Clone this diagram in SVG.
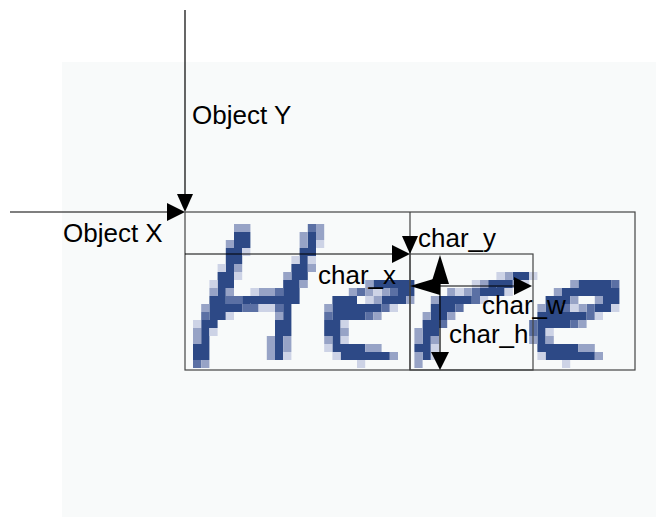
<svg xmlns="http://www.w3.org/2000/svg" width="656" height="517" viewBox="0 0 656 517">
<style>
.t{font-family:"Liberation Sans",Arial,sans-serif;font-size:26px;fill:#000}
.box{fill:none;stroke:#444;stroke-width:1.2}
.ln{fill:none;stroke:#000;stroke-width:1.2}
.ah{fill:#000;stroke:none}
.d{fill:#2d4986}.m{fill:#5b70a4}.l{fill:#97a3c6}.p{fill:#cdd3e6}
</style>
<rect x="0" y="0" width="656" height="517" fill="#ffffff"/>
<rect id="background" x="62" y="62" width="594" height="455" fill="#f8fafa"/>
<g id="handwriting" transform="translate(234,224) scale(8.2,8)">
<path class="d" d="M0 1h1v1h-1zM1 1h1v1h-1zM0 2h1v1h-1zM0 3h1v1h-1zM-1 4h1v1h-1zM-1 5h1v1h-1zM-1 6h1v1h-1zM-2 7h1v1h-1zM-2 8h1v1h-1zM-3 9h1v1h-1zM-2 9h1v1h-1zM1 9h1v1h-1zM2 9h1v1h-1zM3 9h1v1h-1zM4 9h1v1h-1zM5 9h1v1h-1zM-3 10h1v1h-1zM-2 10h1v1h-1zM-1 10h1v1h-1zM0 10h1v1h-1zM-3 11h1v1h-1zM-4 12h1v1h-1zM-4 13h1v1h-1zM-4 14h1v1h-1zM-5 15h1v1h-1zM-4 15h1v1h-1zM-5 16h1v1h-1zM9 1h1v1h-1zM9 2h1v1h-1zM8 3h1v1h-1zM8 4h1v1h-1zM8 5h1v1h-1zM7 6h1v1h-1zM8 6h1v1h-1zM7 7h1v1h-1zM6 8h1v1h-1zM7 8h1v1h-1zM6 9h1v1h-1zM6 10h1v1h-1zM6 11h1v1h-1zM6 12h1v1h-1zM5 14h1v1h-1zM5 15h1v1h-1zM5 16h1v1h-1zM17 7h5v1h-5zM20 8h2v1h-2zM13 9h1v1h-1zM19 9h2v1h-2zM12 10h6v1h-6zM12 11h1v1h-1zM14 11h2v1h-2zM11 12h2v1h-2zM11 13h2v1h-2zM12 14h1v1h-1zM12 15h4v1h-4zM14 16h5v1h-5zM34 6h2v1h-2zM32 7h2v1h-2zM30 8h2v1h-2zM25 9h1v1h-1zM27 9h2v1h-2zM25 10h2v1h-2zM24 11h2v1h-2zM24 12h1v1h-1zM23 13h1v4h-1zM42 7h4v1h-4zM40 8h1v1h-1zM42 8h5v1h-5zM39 9h2v1h-2zM45 9h2v1h-2zM38 10h2v1h-2zM44 10h2v1h-2zM37 11h6v1h-6zM37 12h1v1h-1zM39 12h2v1h-2zM37 13h1v2h-1zM37 15h5v1h-5zM39 16h5v1h-5zM1 2h1v1h-1zM-1 3h1v1h-1zM0 4h1v1h-1zM-2 6h1v1h-1zM-1 7h1v1h-1zM-2 11h1v1h-1zM-3 12h1v1h-1zM-4 16h1v1h-1zM9 3h1v1h-1zM7 5h1v1h-1zM6 7h1v1h-1zM7 9h1v1h-1zM5 12h1v1h-1zM5 13h2v1h-2zM12 9h1v1h-1zM14 9h1v1h-1zM13 11h1v1h-1zM18 9h1v1h-1zM13 16h1v1h-1zM26 9h1v1h-1zM24 10h1v1h-1zM23 12h1v1h-1zM24 13h1v1h-1zM22 15h1v1h-1zM31 7h1v1h-1zM32 8h1v1h-1zM41 8h1v1h-1zM38 9h1v1h-1zM38 12h1v1h-1zM38 16h1v1h-1z"/>
<path class="m" d="M-1 9h2v1h-2zM-4 11h1v1h-1zM-5 17h1v1h-1zM5 8h1v1h-1zM5 10h1v1h-1zM1 10h2v1h-2zM9 0h1v1h-1zM15 8h1v1h-1zM19 8h1v1h-1zM18 10h1v1h-1zM11 11h1v1h-1zM16 11h1v1h-1zM29 8h1v1h-1zM29 9h1v1h-1zM27 10h1v1h-1zM25 12h1v1h-1zM46 7h1v1h-1zM40 10h1v1h-1zM43 10h1v2h-1zM36 12h1v2h-1zM41 12h1v1h-1z"/>
<path class="l" d="M0 0h2v1h-2zM-1 2h1v1h-1zM0 5h1v1h-1zM-3 8h1v1h-1zM-1 8h1v1h-1zM-4 10h1v1h-1zM-5 13h1v2h-1zM-4 17h1v1h-1zM3 8h2v1h-2zM10 0h1v1h-1zM8 1h1v1h-1zM10 1h1v1h-1zM8 2h1v1h-1zM9 5h1v1h-1zM6 6h1v1h-1zM8 7h1v1h-1zM5 11h1v1h-1zM4 14h1v3h-1zM6 14h1v2h-1zM16 7h1v1h-1zM14 8h1v1h-1zM16 8h1v1h-1zM18 8h1v1h-1zM17 9h1v1h-1zM21 9h1v1h-1zM11 10h1v1h-1zM17 11h1v1h-1zM13 13h1v1h-1zM11 14h1v1h-1zM16 15h2v1h-2zM19 16h1v1h-1zM33 6h1v1h-1zM30 7h1v1h-1zM34 7h1v1h-1zM26 8h1v1h-1zM28 8h1v1h-1zM24 9h1v1h-1zM23 11h1v1h-1zM26 11h1v1h-1zM22 13h1v2h-1zM24 14h1v1h-1zM22 16h1v2h-1zM41 7h1v1h-1zM39 8h1v1h-1zM41 9h1v1h-1zM44 9h1v1h-1zM37 10h1v1h-1zM42 10h1v1h-1zM42 12h1v1h-1zM36 14h1v1h-1zM38 14h1v1h-1zM42 15h2v1h-2zM44 16h1v1h-1z"/>
<path class="p" d="M1 3h1v1h-1zM-2 5h1v1h-1zM0 6h1v1h-1zM-3 7h1v1h-1zM-1 11h1v1h-1zM-5 12h1v1h-1zM-3 13h1v1h-1zM2 8h1v1h-1zM3 10h2v1h-2zM10 2h1v1h-1zM7 4h1v1h-1zM9 4h1v1h-1zM6 16h1v1h-1zM17 8h1v1h-1zM16 9h1v1h-1zM19 10h1v1h-1zM13 12h1v1h-1zM13 14h1v1h-1zM11 15h1v1h-1zM12 16h1v1h-1zM15 17h1v1h-1zM32 6h1v1h-1zM36 6h1v1h-1zM29 7h1v1h-1zM35 7h1v1h-1zM27 8h1v1h-1zM33 8h1v1h-1zM30 9h1v1h-1zM24 15h1v2h-1zM41 10h1v1h-1zM46 10h1v1h-1zM44 11h1v1h-1zM38 13h1v1h-1zM37 16h1v1h-1zM40 17h1v1h-1z"/>
</g>
<g id="object-box">
<rect class="box" x="185" y="212" width="450" height="158"/>
<line class="box" x1="410" y1="212" x2="410" y2="370"/>
</g>
<g id="char-box">
<rect class="box" x="410" y="254" width="123" height="116"/>
</g>
<g id="connectors">
<line class="ln" x1="185" y1="10" x2="185" y2="196"/>
<polygon class="ah" points="177,194 193,194 185,212"/>
<line class="ln" x1="10" y1="212" x2="168" y2="212"/>
<polygon class="ah" points="167,203 167,221 185,212"/>
<line class="ln" x1="185" y1="254" x2="394" y2="254"/>
<polygon class="ah" points="392,245 392,263 410,254"/>
<polygon class="ah" points="402,236 418,236 410,254"/>
<line class="ln" x1="438" y1="286" x2="515" y2="286"/>
<polygon class="ah" points="410,286 440,277 440,295"/>
<polygon class="ah" points="514,277 514,295 532,286"/>
<line class="ln" x1="440" y1="280" x2="440" y2="354"/>
<polygon class="ah" points="440,255 431,284 449,284"/>
<polygon class="ah" points="431,352 449,352 440,370"/>
</g>
<g id="labels">
<text class="t" x="192" y="124">Object Y</text>
<text class="t" x="63" y="242">Object X</text>
<text class="t" x="318" y="284">char_x</text>
<text class="t" x="418" y="247">char_y</text>
<text class="t" x="482" y="314">char_w</text>
<text class="t" x="449" y="343">char_h</text>
</g>
</svg>
